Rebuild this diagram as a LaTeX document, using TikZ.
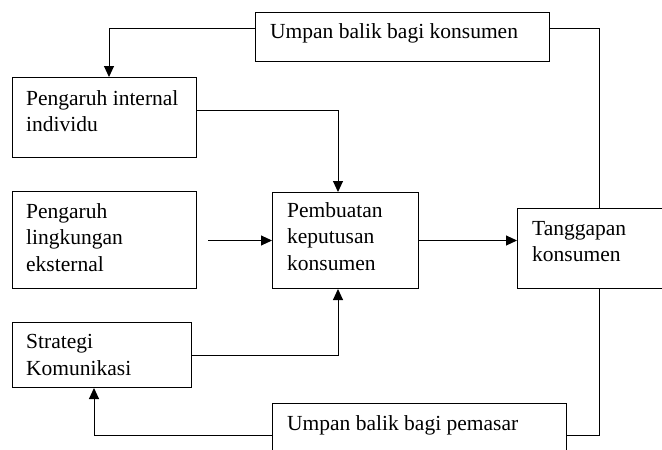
\documentclass[tikz,border=0pt]{standalone}
\usepackage{fontspec}
\setmainfont{Liberation Serif}
\usetikzlibrary{arrows.meta}
\tikzset{
  box/.style={draw, line width=1pt, inner sep=0pt, anchor=north west},
  lbl/.style={font=\fontsize{21.5pt}{26.5pt}\selectfont, anchor=base west, align=left, inner sep=0pt},
  conn/.style={line width=1pt},
  arr/.style={conn, -{Triangle[length=11pt,width=10pt]}}
}
\begin{document}
\begin{tikzpicture}[x=1pt,y=-1pt]
\useasboundingbox (0,0) rectangle (662,450);
\clip (0,0) rectangle (662,450);
% boxes
\node[box, minimum width=294pt, minimum height=49pt] (konsFB) at (255,12) {};
\node[box, minimum width=184pt, minimum height=80pt] (internal) at (12,77) {};
\node[box, minimum width=184pt, minimum height=97pt] (external) at (12,191) {};
\node[box, minimum width=179pt, minimum height=65pt] (strat) at (12,322) {};
\node[box, minimum width=146pt, minimum height=96pt] (pemb) at (272,192) {};
\node[box, minimum width=163pt, minimum height=80pt] (tangg) at (517,208) {};
\node[box, minimum width=294pt, minimum height=67pt] (pemasar) at (272,403) {};
% labels (anchored at the baseline of their last line)
\node[lbl] (t1) at (270,38) {Umpan balik bagi konsumen};
\node[lbl] (t2) at (26,131.5) {Pengaruh internal\\individu};
\node[lbl] (t3) at (26,271) {Pengaruh\\lingkungan\\eksternal};
\node[lbl] (t4) at (26,375) {Strategi\\Komunikasi};
\node[lbl] (t5) at (287,270) {Pembuatan\\keputusan\\konsumen};
\node[lbl] (t6) at (532,261.5) {Tanggapan\\konsumen};
\node[lbl] (t7) at (287,430) {Umpan balik bagi pemasar};
% connectors
\draw[arr] ([yshift=-16pt]konsFB.north west) -| ([xshift=97pt]internal.north west);
\draw[conn] ([xshift=82pt]tangg.north west) |- ([yshift=-16pt]konsFB.north east);
\draw[arr] ([yshift=-33pt]internal.north east) -| ([xshift=66pt]pemb.north west);
\draw[arr] ([xshift=11pt]external.east |- pemb.west) -- (pemb.west);
\draw[arr] (pemb.east) -- (pemb.east -| tangg.west);
\draw[arr] (strat.east) -| ([xshift=66pt]pemb.south west);
\draw[conn] ([xshift=82pt]tangg.south west) |- ([yshift=-32pt]pemasar.north east);
\draw[arr] ([yshift=-32pt]pemasar.north west) -| ([xshift=82pt]strat.south west);
\end{tikzpicture}
\end{document}
